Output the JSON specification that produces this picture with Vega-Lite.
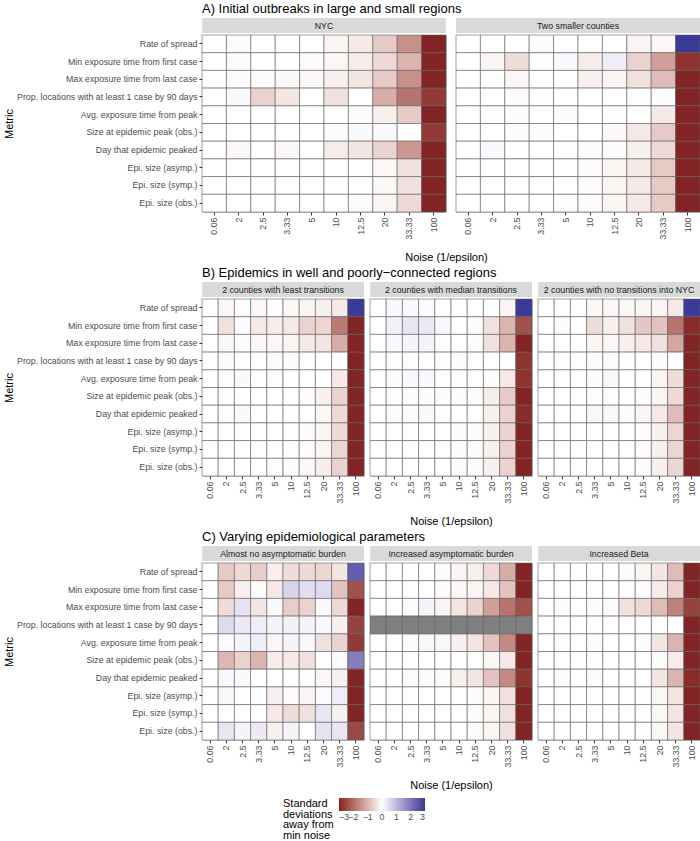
{
"$schema": "https://vega.github.io/schema/vega-lite/v6.json",
"padding": {"left": 3, "top": 3, "right": 1, "bottom": 0},
"background": "white",
"datasets": {
"A1": [
{"m":"Rate of spread","n":"0.06","v":0},{"m":"Rate of spread","n":"2","v":-0.05},{"m":"Rate of spread","n":"2.5","v":0},{"m":"Rate of spread","n":"3.33","v":0},{"m":"Rate of spread","n":"5","v":0},{"m":"Rate of spread","n":"10","v":-0.15},{"m":"Rate of spread","n":"12.5","v":-0.3},{"m":"Rate of spread","n":"20","v":-0.7},{"m":"Rate of spread","n":"33.33","v":-1.5},{"m":"Rate of spread","n":"100","v":-3},
{"m":"Min exposure time from first case","n":"0.06","v":0},{"m":"Min exposure time from first case","n":"2","v":-0.05},{"m":"Min exposure time from first case","n":"2.5","v":0},{"m":"Min exposure time from first case","n":"3.33","v":0},{"m":"Min exposure time from first case","n":"5","v":-0.05},{"m":"Min exposure time from first case","n":"10","v":-0.1},{"m":"Min exposure time from first case","n":"12.5","v":-0.25},{"m":"Min exposure time from first case","n":"20","v":-0.5},{"m":"Min exposure time from first case","n":"33.33","v":-1.0},{"m":"Min exposure time from first case","n":"100","v":-3},
{"m":"Max exposure time from last case","n":"0.06","v":0},{"m":"Max exposure time from last case","n":"2","v":-0.05},{"m":"Max exposure time from last case","n":"2.5","v":-0.05},{"m":"Max exposure time from last case","n":"3.33","v":-0.1},{"m":"Max exposure time from last case","n":"5","v":-0.1},{"m":"Max exposure time from last case","n":"10","v":-0.2},{"m":"Max exposure time from last case","n":"12.5","v":-0.35},{"m":"Max exposure time from last case","n":"20","v":-0.7},{"m":"Max exposure time from last case","n":"33.33","v":-1.5},{"m":"Max exposure time from last case","n":"100","v":-3},
{"m":"Prop. locations with at least 1 case by 90 days","n":"0.06","v":0},{"m":"Prop. locations with at least 1 case by 90 days","n":"2","v":0.1},{"m":"Prop. locations with at least 1 case by 90 days","n":"2.5","v":-0.6},{"m":"Prop. locations with at least 1 case by 90 days","n":"3.33","v":-0.35},{"m":"Prop. locations with at least 1 case by 90 days","n":"5","v":0},{"m":"Prop. locations with at least 1 case by 90 days","n":"10","v":-0.4},{"m":"Prop. locations with at least 1 case by 90 days","n":"12.5","v":0},{"m":"Prop. locations with at least 1 case by 90 days","n":"20","v":-1.1},{"m":"Prop. locations with at least 1 case by 90 days","n":"33.33","v":-1.9},{"m":"Prop. locations with at least 1 case by 90 days","n":"100","v":-2.7},
{"m":"Avg. exposure time from peak","n":"0.06","v":0},{"m":"Avg. exposure time from peak","n":"2","v":0},{"m":"Avg. exposure time from peak","n":"2.5","v":0},{"m":"Avg. exposure time from peak","n":"3.33","v":0},{"m":"Avg. exposure time from peak","n":"5","v":0},{"m":"Avg. exposure time from peak","n":"10","v":0},{"m":"Avg. exposure time from peak","n":"12.5","v":-0.05},{"m":"Avg. exposure time from peak","n":"20","v":-0.2},{"m":"Avg. exposure time from peak","n":"33.33","v":-0.7},{"m":"Avg. exposure time from peak","n":"100","v":-3},
{"m":"Size at epidemic peak (obs.)","n":"0.06","v":0},{"m":"Size at epidemic peak (obs.)","n":"2","v":0},{"m":"Size at epidemic peak (obs.)","n":"2.5","v":0},{"m":"Size at epidemic peak (obs.)","n":"3.33","v":0},{"m":"Size at epidemic peak (obs.)","n":"5","v":0},{"m":"Size at epidemic peak (obs.)","n":"10","v":0.05},{"m":"Size at epidemic peak (obs.)","n":"12.5","v":0.1},{"m":"Size at epidemic peak (obs.)","n":"20","v":0.1},{"m":"Size at epidemic peak (obs.)","n":"33.33","v":0},{"m":"Size at epidemic peak (obs.)","n":"100","v":-2.7},
{"m":"Day that epidemic peaked","n":"0.06","v":0},{"m":"Day that epidemic peaked","n":"2","v":-0.1},{"m":"Day that epidemic peaked","n":"2.5","v":0},{"m":"Day that epidemic peaked","n":"3.33","v":-0.1},{"m":"Day that epidemic peaked","n":"5","v":0},{"m":"Day that epidemic peaked","n":"10","v":-0.25},{"m":"Day that epidemic peaked","n":"12.5","v":-0.35},{"m":"Day that epidemic peaked","n":"20","v":-0.6},{"m":"Day that epidemic peaked","n":"33.33","v":-1.4},{"m":"Day that epidemic peaked","n":"100","v":-3},
{"m":"Epi. size (asymp.)","n":"0.06","v":0},{"m":"Epi. size (asymp.)","n":"2","v":0},{"m":"Epi. size (asymp.)","n":"2.5","v":0},{"m":"Epi. size (asymp.)","n":"3.33","v":0},{"m":"Epi. size (asymp.)","n":"5","v":0},{"m":"Epi. size (asymp.)","n":"10","v":0},{"m":"Epi. size (asymp.)","n":"12.5","v":0},{"m":"Epi. size (asymp.)","n":"20","v":-0.1},{"m":"Epi. size (asymp.)","n":"33.33","v":-0.4},{"m":"Epi. size (asymp.)","n":"100","v":-3},
{"m":"Epi. size (symp.)","n":"0.06","v":0},{"m":"Epi. size (symp.)","n":"2","v":0},{"m":"Epi. size (symp.)","n":"2.5","v":0},{"m":"Epi. size (symp.)","n":"3.33","v":0},{"m":"Epi. size (symp.)","n":"5","v":0},{"m":"Epi. size (symp.)","n":"10","v":0},{"m":"Epi. size (symp.)","n":"12.5","v":0},{"m":"Epi. size (symp.)","n":"20","v":-0.1},{"m":"Epi. size (symp.)","n":"33.33","v":-0.4},{"m":"Epi. size (symp.)","n":"100","v":-3},
{"m":"Epi. size (obs.)","n":"0.06","v":0},{"m":"Epi. size (obs.)","n":"2","v":0},{"m":"Epi. size (obs.)","n":"2.5","v":0},{"m":"Epi. size (obs.)","n":"3.33","v":0},{"m":"Epi. size (obs.)","n":"5","v":0},{"m":"Epi. size (obs.)","n":"10","v":0},{"m":"Epi. size (obs.)","n":"12.5","v":-0.05},{"m":"Epi. size (obs.)","n":"20","v":-0.15},{"m":"Epi. size (obs.)","n":"33.33","v":-0.5},{"m":"Epi. size (obs.)","n":"100","v":-3}
],
"A2": [
{"m":"Rate of spread","n":"0.06","v":0},{"m":"Rate of spread","n":"2","v":0},{"m":"Rate of spread","n":"2.5","v":0},{"m":"Rate of spread","n":"3.33","v":0.05},{"m":"Rate of spread","n":"5","v":0},{"m":"Rate of spread","n":"10","v":0},{"m":"Rate of spread","n":"12.5","v":0},{"m":"Rate of spread","n":"20","v":-0.15},{"m":"Rate of spread","n":"33.33","v":-0.1},{"m":"Rate of spread","n":"100","v":3},
{"m":"Min exposure time from first case","n":"0.06","v":0},{"m":"Min exposure time from first case","n":"2","v":-0.15},{"m":"Min exposure time from first case","n":"2.5","v":-0.45},{"m":"Min exposure time from first case","n":"3.33","v":0.03},{"m":"Min exposure time from first case","n":"5","v":0.1},{"m":"Min exposure time from first case","n":"10","v":-0.25},{"m":"Min exposure time from first case","n":"12.5","v":0.25},{"m":"Min exposure time from first case","n":"20","v":-0.6},{"m":"Min exposure time from first case","n":"33.33","v":-1.3},{"m":"Min exposure time from first case","n":"100","v":-2.8},
{"m":"Max exposure time from last case","n":"0.06","v":0},{"m":"Max exposure time from last case","n":"2","v":0.03},{"m":"Max exposure time from last case","n":"2.5","v":-0.1},{"m":"Max exposure time from last case","n":"3.33","v":0},{"m":"Max exposure time from last case","n":"5","v":0},{"m":"Max exposure time from last case","n":"10","v":-0.2},{"m":"Max exposure time from last case","n":"12.5","v":-0.15},{"m":"Max exposure time from last case","n":"20","v":-0.4},{"m":"Max exposure time from last case","n":"33.33","v":-0.9},{"m":"Max exposure time from last case","n":"100","v":-3},
{"m":"Prop. locations with at least 1 case by 90 days","n":"0.06","v":0},{"m":"Prop. locations with at least 1 case by 90 days","n":"2","v":0},{"m":"Prop. locations with at least 1 case by 90 days","n":"2.5","v":-0.05},{"m":"Prop. locations with at least 1 case by 90 days","n":"3.33","v":-0.03},{"m":"Prop. locations with at least 1 case by 90 days","n":"5","v":0},{"m":"Prop. locations with at least 1 case by 90 days","n":"10","v":0},{"m":"Prop. locations with at least 1 case by 90 days","n":"12.5","v":0},{"m":"Prop. locations with at least 1 case by 90 days","n":"20","v":0.03},{"m":"Prop. locations with at least 1 case by 90 days","n":"33.33","v":-0.05},{"m":"Prop. locations with at least 1 case by 90 days","n":"100","v":-3},
{"m":"Avg. exposure time from peak","n":"0.06","v":0},{"m":"Avg. exposure time from peak","n":"2","v":0.03},{"m":"Avg. exposure time from peak","n":"2.5","v":-0.05},{"m":"Avg. exposure time from peak","n":"3.33","v":0},{"m":"Avg. exposure time from peak","n":"5","v":0.05},{"m":"Avg. exposure time from peak","n":"10","v":0},{"m":"Avg. exposure time from peak","n":"12.5","v":0.03},{"m":"Avg. exposure time from peak","n":"20","v":0},{"m":"Avg. exposure time from peak","n":"33.33","v":-0.3},{"m":"Avg. exposure time from peak","n":"100","v":-3},
{"m":"Size at epidemic peak (obs.)","n":"0.06","v":0},{"m":"Size at epidemic peak (obs.)","n":"2","v":0},{"m":"Size at epidemic peak (obs.)","n":"2.5","v":-0.05},{"m":"Size at epidemic peak (obs.)","n":"3.33","v":-0.05},{"m":"Size at epidemic peak (obs.)","n":"5","v":0},{"m":"Size at epidemic peak (obs.)","n":"10","v":0},{"m":"Size at epidemic peak (obs.)","n":"12.5","v":-0.1},{"m":"Size at epidemic peak (obs.)","n":"20","v":-0.3},{"m":"Size at epidemic peak (obs.)","n":"33.33","v":-0.7},{"m":"Size at epidemic peak (obs.)","n":"100","v":-3},
{"m":"Day that epidemic peaked","n":"0.06","v":0},{"m":"Day that epidemic peaked","n":"2","v":0.1},{"m":"Day that epidemic peaked","n":"2.5","v":0},{"m":"Day that epidemic peaked","n":"3.33","v":0},{"m":"Day that epidemic peaked","n":"5","v":0.03},{"m":"Day that epidemic peaked","n":"10","v":-0.05},{"m":"Day that epidemic peaked","n":"12.5","v":-0.05},{"m":"Day that epidemic peaked","n":"20","v":-0.2},{"m":"Day that epidemic peaked","n":"33.33","v":-0.5},{"m":"Day that epidemic peaked","n":"100","v":-3},
{"m":"Epi. size (asymp.)","n":"0.06","v":0},{"m":"Epi. size (asymp.)","n":"2","v":0},{"m":"Epi. size (asymp.)","n":"2.5","v":0},{"m":"Epi. size (asymp.)","n":"3.33","v":0},{"m":"Epi. size (asymp.)","n":"5","v":0},{"m":"Epi. size (asymp.)","n":"10","v":-0.05},{"m":"Epi. size (asymp.)","n":"12.5","v":-0.15},{"m":"Epi. size (asymp.)","n":"20","v":-0.3},{"m":"Epi. size (asymp.)","n":"33.33","v":-0.7},{"m":"Epi. size (asymp.)","n":"100","v":-3},
{"m":"Epi. size (symp.)","n":"0.06","v":0},{"m":"Epi. size (symp.)","n":"2","v":0},{"m":"Epi. size (symp.)","n":"2.5","v":0},{"m":"Epi. size (symp.)","n":"3.33","v":0},{"m":"Epi. size (symp.)","n":"5","v":0},{"m":"Epi. size (symp.)","n":"10","v":-0.05},{"m":"Epi. size (symp.)","n":"12.5","v":-0.15},{"m":"Epi. size (symp.)","n":"20","v":-0.3},{"m":"Epi. size (symp.)","n":"33.33","v":-0.7},{"m":"Epi. size (symp.)","n":"100","v":-3},
{"m":"Epi. size (obs.)","n":"0.06","v":0},{"m":"Epi. size (obs.)","n":"2","v":0},{"m":"Epi. size (obs.)","n":"2.5","v":0},{"m":"Epi. size (obs.)","n":"3.33","v":0},{"m":"Epi. size (obs.)","n":"5","v":-0.03},{"m":"Epi. size (obs.)","n":"10","v":-0.05},{"m":"Epi. size (obs.)","n":"12.5","v":-0.15},{"m":"Epi. size (obs.)","n":"20","v":-0.3},{"m":"Epi. size (obs.)","n":"33.33","v":-0.7},{"m":"Epi. size (obs.)","n":"100","v":-3}
],
"B1": [
{"m":"Rate of spread","n":"0.06","v":0},{"m":"Rate of spread","n":"2","v":-0.1},{"m":"Rate of spread","n":"2.5","v":0.03},{"m":"Rate of spread","n":"3.33","v":-0.1},{"m":"Rate of spread","n":"5","v":0},{"m":"Rate of spread","n":"10","v":-0.1},{"m":"Rate of spread","n":"12.5","v":-0.15},{"m":"Rate of spread","n":"20","v":-0.2},{"m":"Rate of spread","n":"33.33","v":-0.3},{"m":"Rate of spread","n":"100","v":3},
{"m":"Min exposure time from first case","n":"0.06","v":0},{"m":"Min exposure time from first case","n":"2","v":-0.4},{"m":"Min exposure time from first case","n":"2.5","v":0.05},{"m":"Min exposure time from first case","n":"3.33","v":-0.3},{"m":"Min exposure time from first case","n":"5","v":-0.25},{"m":"Min exposure time from first case","n":"10","v":-0.3},{"m":"Min exposure time from first case","n":"12.5","v":-0.6},{"m":"Min exposure time from first case","n":"20","v":-0.55},{"m":"Min exposure time from first case","n":"33.33","v":-1.8},{"m":"Min exposure time from first case","n":"100","v":-3},
{"m":"Max exposure time from last case","n":"0.06","v":0},{"m":"Max exposure time from last case","n":"2","v":-0.1},{"m":"Max exposure time from last case","n":"2.5","v":0.05},{"m":"Max exposure time from last case","n":"3.33","v":-0.1},{"m":"Max exposure time from last case","n":"5","v":-0.1},{"m":"Max exposure time from last case","n":"10","v":-0.15},{"m":"Max exposure time from last case","n":"12.5","v":-0.3},{"m":"Max exposure time from last case","n":"20","v":-0.35},{"m":"Max exposure time from last case","n":"33.33","v":-1.1},{"m":"Max exposure time from last case","n":"100","v":-3},
{"m":"Prop. locations with at least 1 case by 90 days","n":"0.06","v":0},{"m":"Prop. locations with at least 1 case by 90 days","n":"2","v":0.05},{"m":"Prop. locations with at least 1 case by 90 days","n":"2.5","v":0},{"m":"Prop. locations with at least 1 case by 90 days","n":"3.33","v":0},{"m":"Prop. locations with at least 1 case by 90 days","n":"5","v":0.05},{"m":"Prop. locations with at least 1 case by 90 days","n":"10","v":0.05},{"m":"Prop. locations with at least 1 case by 90 days","n":"12.5","v":0},{"m":"Prop. locations with at least 1 case by 90 days","n":"20","v":0},{"m":"Prop. locations with at least 1 case by 90 days","n":"33.33","v":0},{"m":"Prop. locations with at least 1 case by 90 days","n":"100","v":-3},
{"m":"Avg. exposure time from peak","n":"0.06","v":0},{"m":"Avg. exposure time from peak","n":"2","v":0.03},{"m":"Avg. exposure time from peak","n":"2.5","v":0.08},{"m":"Avg. exposure time from peak","n":"3.33","v":0},{"m":"Avg. exposure time from peak","n":"5","v":0.03},{"m":"Avg. exposure time from peak","n":"10","v":0},{"m":"Avg. exposure time from peak","n":"12.5","v":0},{"m":"Avg. exposure time from peak","n":"20","v":0},{"m":"Avg. exposure time from peak","n":"33.33","v":-0.3},{"m":"Avg. exposure time from peak","n":"100","v":-3},
{"m":"Size at epidemic peak (obs.)","n":"0.06","v":0},{"m":"Size at epidemic peak (obs.)","n":"2","v":0.03},{"m":"Size at epidemic peak (obs.)","n":"2.5","v":0},{"m":"Size at epidemic peak (obs.)","n":"3.33","v":0},{"m":"Size at epidemic peak (obs.)","n":"5","v":0},{"m":"Size at epidemic peak (obs.)","n":"10","v":0},{"m":"Size at epidemic peak (obs.)","n":"12.5","v":-0.05},{"m":"Size at epidemic peak (obs.)","n":"20","v":-0.2},{"m":"Size at epidemic peak (obs.)","n":"33.33","v":-0.6},{"m":"Size at epidemic peak (obs.)","n":"100","v":-3},
{"m":"Day that epidemic peaked","n":"0.06","v":0},{"m":"Day that epidemic peaked","n":"2","v":0.03},{"m":"Day that epidemic peaked","n":"2.5","v":0.1},{"m":"Day that epidemic peaked","n":"3.33","v":0},{"m":"Day that epidemic peaked","n":"5","v":0},{"m":"Day that epidemic peaked","n":"10","v":0},{"m":"Day that epidemic peaked","n":"12.5","v":0},{"m":"Day that epidemic peaked","n":"20","v":-0.1},{"m":"Day that epidemic peaked","n":"33.33","v":-0.5},{"m":"Day that epidemic peaked","n":"100","v":-3},
{"m":"Epi. size (asymp.)","n":"0.06","v":0},{"m":"Epi. size (asymp.)","n":"2","v":0},{"m":"Epi. size (asymp.)","n":"2.5","v":0},{"m":"Epi. size (asymp.)","n":"3.33","v":0},{"m":"Epi. size (asymp.)","n":"5","v":0},{"m":"Epi. size (asymp.)","n":"10","v":0},{"m":"Epi. size (asymp.)","n":"12.5","v":-0.05},{"m":"Epi. size (asymp.)","n":"20","v":-0.15},{"m":"Epi. size (asymp.)","n":"33.33","v":-0.5},{"m":"Epi. size (asymp.)","n":"100","v":-3},
{"m":"Epi. size (symp.)","n":"0.06","v":0},{"m":"Epi. size (symp.)","n":"2","v":0},{"m":"Epi. size (symp.)","n":"2.5","v":0},{"m":"Epi. size (symp.)","n":"3.33","v":0},{"m":"Epi. size (symp.)","n":"5","v":0},{"m":"Epi. size (symp.)","n":"10","v":-0.03},{"m":"Epi. size (symp.)","n":"12.5","v":-0.05},{"m":"Epi. size (symp.)","n":"20","v":-0.15},{"m":"Epi. size (symp.)","n":"33.33","v":-0.55},{"m":"Epi. size (symp.)","n":"100","v":-3},
{"m":"Epi. size (obs.)","n":"0.06","v":0},{"m":"Epi. size (obs.)","n":"2","v":0},{"m":"Epi. size (obs.)","n":"2.5","v":0},{"m":"Epi. size (obs.)","n":"3.33","v":0},{"m":"Epi. size (obs.)","n":"5","v":-0.03},{"m":"Epi. size (obs.)","n":"10","v":-0.05},{"m":"Epi. size (obs.)","n":"12.5","v":-0.1},{"m":"Epi. size (obs.)","n":"20","v":-0.25},{"m":"Epi. size (obs.)","n":"33.33","v":-0.6},{"m":"Epi. size (obs.)","n":"100","v":-3}
],
"B2": [
{"m":"Rate of spread","n":"0.06","v":0},{"m":"Rate of spread","n":"2","v":0.1},{"m":"Rate of spread","n":"2.5","v":0.1},{"m":"Rate of spread","n":"3.33","v":0.05},{"m":"Rate of spread","n":"5","v":0},{"m":"Rate of spread","n":"10","v":0},{"m":"Rate of spread","n":"12.5","v":0},{"m":"Rate of spread","n":"20","v":0},{"m":"Rate of spread","n":"33.33","v":-0.15},{"m":"Rate of spread","n":"100","v":3},
{"m":"Min exposure time from first case","n":"0.06","v":0},{"m":"Min exposure time from first case","n":"2","v":0.2},{"m":"Min exposure time from first case","n":"2.5","v":0.35},{"m":"Min exposure time from first case","n":"3.33","v":0.3},{"m":"Min exposure time from first case","n":"5","v":0.1},{"m":"Min exposure time from first case","n":"10","v":0},{"m":"Min exposure time from first case","n":"12.5","v":0.05},{"m":"Min exposure time from first case","n":"20","v":-0.4},{"m":"Min exposure time from first case","n":"33.33","v":-1.0},{"m":"Min exposure time from first case","n":"100","v":-2.4},
{"m":"Max exposure time from last case","n":"0.06","v":0},{"m":"Max exposure time from last case","n":"2","v":0.1},{"m":"Max exposure time from last case","n":"2.5","v":0.15},{"m":"Max exposure time from last case","n":"3.33","v":0.15},{"m":"Max exposure time from last case","n":"5","v":0.03},{"m":"Max exposure time from last case","n":"10","v":0},{"m":"Max exposure time from last case","n":"12.5","v":-0.05},{"m":"Max exposure time from last case","n":"20","v":-0.4},{"m":"Max exposure time from last case","n":"33.33","v":-1.0},{"m":"Max exposure time from last case","n":"100","v":-3},
{"m":"Prop. locations with at least 1 case by 90 days","n":"0.06","v":0},{"m":"Prop. locations with at least 1 case by 90 days","n":"2","v":0.03},{"m":"Prop. locations with at least 1 case by 90 days","n":"2.5","v":0.03},{"m":"Prop. locations with at least 1 case by 90 days","n":"3.33","v":0},{"m":"Prop. locations with at least 1 case by 90 days","n":"5","v":-0.03},{"m":"Prop. locations with at least 1 case by 90 days","n":"10","v":0.05},{"m":"Prop. locations with at least 1 case by 90 days","n":"12.5","v":0},{"m":"Prop. locations with at least 1 case by 90 days","n":"20","v":0},{"m":"Prop. locations with at least 1 case by 90 days","n":"33.33","v":0},{"m":"Prop. locations with at least 1 case by 90 days","n":"100","v":-2.8},
{"m":"Avg. exposure time from peak","n":"0.06","v":0},{"m":"Avg. exposure time from peak","n":"2","v":0.05},{"m":"Avg. exposure time from peak","n":"2.5","v":0.1},{"m":"Avg. exposure time from peak","n":"3.33","v":0.1},{"m":"Avg. exposure time from peak","n":"5","v":0},{"m":"Avg. exposure time from peak","n":"10","v":-0.03},{"m":"Avg. exposure time from peak","n":"12.5","v":0},{"m":"Avg. exposure time from peak","n":"20","v":-0.05},{"m":"Avg. exposure time from peak","n":"33.33","v":-0.3},{"m":"Avg. exposure time from peak","n":"100","v":-2.8},
{"m":"Size at epidemic peak (obs.)","n":"0.06","v":0},{"m":"Size at epidemic peak (obs.)","n":"2","v":-0.03},{"m":"Size at epidemic peak (obs.)","n":"2.5","v":-0.05},{"m":"Size at epidemic peak (obs.)","n":"3.33","v":-0.05},{"m":"Size at epidemic peak (obs.)","n":"5","v":-0.05},{"m":"Size at epidemic peak (obs.)","n":"10","v":-0.05},{"m":"Size at epidemic peak (obs.)","n":"12.5","v":-0.05},{"m":"Size at epidemic peak (obs.)","n":"20","v":-0.25},{"m":"Size at epidemic peak (obs.)","n":"33.33","v":-0.7},{"m":"Size at epidemic peak (obs.)","n":"100","v":-3},
{"m":"Day that epidemic peaked","n":"0.06","v":0},{"m":"Day that epidemic peaked","n":"2","v":0.05},{"m":"Day that epidemic peaked","n":"2.5","v":0.05},{"m":"Day that epidemic peaked","n":"3.33","v":0.1},{"m":"Day that epidemic peaked","n":"5","v":0.03},{"m":"Day that epidemic peaked","n":"10","v":0},{"m":"Day that epidemic peaked","n":"12.5","v":0},{"m":"Day that epidemic peaked","n":"20","v":-0.2},{"m":"Day that epidemic peaked","n":"33.33","v":-0.6},{"m":"Day that epidemic peaked","n":"100","v":-2.9},
{"m":"Epi. size (asymp.)","n":"0.06","v":0},{"m":"Epi. size (asymp.)","n":"2","v":0},{"m":"Epi. size (asymp.)","n":"2.5","v":0},{"m":"Epi. size (asymp.)","n":"3.33","v":0},{"m":"Epi. size (asymp.)","n":"5","v":0},{"m":"Epi. size (asymp.)","n":"10","v":-0.05},{"m":"Epi. size (asymp.)","n":"12.5","v":-0.05},{"m":"Epi. size (asymp.)","n":"20","v":-0.2},{"m":"Epi. size (asymp.)","n":"33.33","v":-0.6},{"m":"Epi. size (asymp.)","n":"100","v":-3},
{"m":"Epi. size (symp.)","n":"0.06","v":0},{"m":"Epi. size (symp.)","n":"2","v":0},{"m":"Epi. size (symp.)","n":"2.5","v":0},{"m":"Epi. size (symp.)","n":"3.33","v":0},{"m":"Epi. size (symp.)","n":"5","v":0},{"m":"Epi. size (symp.)","n":"10","v":-0.05},{"m":"Epi. size (symp.)","n":"12.5","v":-0.05},{"m":"Epi. size (symp.)","n":"20","v":-0.2},{"m":"Epi. size (symp.)","n":"33.33","v":-0.6},{"m":"Epi. size (symp.)","n":"100","v":-3},
{"m":"Epi. size (obs.)","n":"0.06","v":0},{"m":"Epi. size (obs.)","n":"2","v":0},{"m":"Epi. size (obs.)","n":"2.5","v":0},{"m":"Epi. size (obs.)","n":"3.33","v":0},{"m":"Epi. size (obs.)","n":"5","v":0},{"m":"Epi. size (obs.)","n":"10","v":-0.05},{"m":"Epi. size (obs.)","n":"12.5","v":-0.05},{"m":"Epi. size (obs.)","n":"20","v":-0.2},{"m":"Epi. size (obs.)","n":"33.33","v":-0.6},{"m":"Epi. size (obs.)","n":"100","v":-3}
],
"B3": [
{"m":"Rate of spread","n":"0.06","v":0},{"m":"Rate of spread","n":"2","v":0},{"m":"Rate of spread","n":"2.5","v":0},{"m":"Rate of spread","n":"3.33","v":-0.1},{"m":"Rate of spread","n":"5","v":-0.1},{"m":"Rate of spread","n":"10","v":-0.1},{"m":"Rate of spread","n":"12.5","v":-0.15},{"m":"Rate of spread","n":"20","v":-0.15},{"m":"Rate of spread","n":"33.33","v":-0.3},{"m":"Rate of spread","n":"100","v":3},
{"m":"Min exposure time from first case","n":"0.06","v":0},{"m":"Min exposure time from first case","n":"2","v":-0.05},{"m":"Min exposure time from first case","n":"2.5","v":0},{"m":"Min exposure time from first case","n":"3.33","v":-0.45},{"m":"Min exposure time from first case","n":"5","v":-0.2},{"m":"Min exposure time from first case","n":"10","v":-0.4},{"m":"Min exposure time from first case","n":"12.5","v":-0.75},{"m":"Min exposure time from first case","n":"20","v":-0.8},{"m":"Min exposure time from first case","n":"33.33","v":-1.9},{"m":"Min exposure time from first case","n":"100","v":-2.9},
{"m":"Max exposure time from last case","n":"0.06","v":0},{"m":"Max exposure time from last case","n":"2","v":0},{"m":"Max exposure time from last case","n":"2.5","v":0},{"m":"Max exposure time from last case","n":"3.33","v":-0.15},{"m":"Max exposure time from last case","n":"5","v":-0.1},{"m":"Max exposure time from last case","n":"10","v":-0.2},{"m":"Max exposure time from last case","n":"12.5","v":-0.3},{"m":"Max exposure time from last case","n":"20","v":-0.4},{"m":"Max exposure time from last case","n":"33.33","v":-1.2},{"m":"Max exposure time from last case","n":"100","v":-3},
{"m":"Prop. locations with at least 1 case by 90 days","n":"0.06","v":0},{"m":"Prop. locations with at least 1 case by 90 days","n":"2","v":0},{"m":"Prop. locations with at least 1 case by 90 days","n":"2.5","v":0},{"m":"Prop. locations with at least 1 case by 90 days","n":"3.33","v":-0.05},{"m":"Prop. locations with at least 1 case by 90 days","n":"5","v":-0.05},{"m":"Prop. locations with at least 1 case by 90 days","n":"10","v":0},{"m":"Prop. locations with at least 1 case by 90 days","n":"12.5","v":0},{"m":"Prop. locations with at least 1 case by 90 days","n":"20","v":-0.05},{"m":"Prop. locations with at least 1 case by 90 days","n":"33.33","v":0},{"m":"Prop. locations with at least 1 case by 90 days","n":"100","v":-3},
{"m":"Avg. exposure time from peak","n":"0.06","v":0},{"m":"Avg. exposure time from peak","n":"2","v":0},{"m":"Avg. exposure time from peak","n":"2.5","v":0},{"m":"Avg. exposure time from peak","n":"3.33","v":-0.05},{"m":"Avg. exposure time from peak","n":"5","v":-0.1},{"m":"Avg. exposure time from peak","n":"10","v":0},{"m":"Avg. exposure time from peak","n":"12.5","v":0},{"m":"Avg. exposure time from peak","n":"20","v":-0.15},{"m":"Avg. exposure time from peak","n":"33.33","v":-0.45},{"m":"Avg. exposure time from peak","n":"100","v":-3},
{"m":"Size at epidemic peak (obs.)","n":"0.06","v":0},{"m":"Size at epidemic peak (obs.)","n":"2","v":0},{"m":"Size at epidemic peak (obs.)","n":"2.5","v":0},{"m":"Size at epidemic peak (obs.)","n":"3.33","v":-0.03},{"m":"Size at epidemic peak (obs.)","n":"5","v":0.03},{"m":"Size at epidemic peak (obs.)","n":"10","v":0},{"m":"Size at epidemic peak (obs.)","n":"12.5","v":0.05},{"m":"Size at epidemic peak (obs.)","n":"20","v":-0.15},{"m":"Size at epidemic peak (obs.)","n":"33.33","v":-0.5},{"m":"Size at epidemic peak (obs.)","n":"100","v":-3},
{"m":"Day that epidemic peaked","n":"0.06","v":0},{"m":"Day that epidemic peaked","n":"2","v":0},{"m":"Day that epidemic peaked","n":"2.5","v":0},{"m":"Day that epidemic peaked","n":"3.33","v":-0.1},{"m":"Day that epidemic peaked","n":"5","v":-0.1},{"m":"Day that epidemic peaked","n":"10","v":-0.05},{"m":"Day that epidemic peaked","n":"12.5","v":-0.15},{"m":"Day that epidemic peaked","n":"20","v":-0.3},{"m":"Day that epidemic peaked","n":"33.33","v":-0.9},{"m":"Day that epidemic peaked","n":"100","v":-3},
{"m":"Epi. size (asymp.)","n":"0.06","v":0},{"m":"Epi. size (asymp.)","n":"2","v":0},{"m":"Epi. size (asymp.)","n":"2.5","v":0},{"m":"Epi. size (asymp.)","n":"3.33","v":0},{"m":"Epi. size (asymp.)","n":"5","v":0},{"m":"Epi. size (asymp.)","n":"10","v":0},{"m":"Epi. size (asymp.)","n":"12.5","v":-0.05},{"m":"Epi. size (asymp.)","n":"20","v":-0.2},{"m":"Epi. size (asymp.)","n":"33.33","v":-0.55},{"m":"Epi. size (asymp.)","n":"100","v":-3},
{"m":"Epi. size (symp.)","n":"0.06","v":0},{"m":"Epi. size (symp.)","n":"2","v":0},{"m":"Epi. size (symp.)","n":"2.5","v":0},{"m":"Epi. size (symp.)","n":"3.33","v":0},{"m":"Epi. size (symp.)","n":"5","v":0},{"m":"Epi. size (symp.)","n":"10","v":0},{"m":"Epi. size (symp.)","n":"12.5","v":-0.05},{"m":"Epi. size (symp.)","n":"20","v":-0.2},{"m":"Epi. size (symp.)","n":"33.33","v":-0.55},{"m":"Epi. size (symp.)","n":"100","v":-3},
{"m":"Epi. size (obs.)","n":"0.06","v":0},{"m":"Epi. size (obs.)","n":"2","v":0},{"m":"Epi. size (obs.)","n":"2.5","v":0},{"m":"Epi. size (obs.)","n":"3.33","v":0},{"m":"Epi. size (obs.)","n":"5","v":0},{"m":"Epi. size (obs.)","n":"10","v":0},{"m":"Epi. size (obs.)","n":"12.5","v":-0.05},{"m":"Epi. size (obs.)","n":"20","v":-0.2},{"m":"Epi. size (obs.)","n":"33.33","v":-0.55},{"m":"Epi. size (obs.)","n":"100","v":-3}
],
"C1": [
{"m":"Rate of spread","n":"0.06","v":0},{"m":"Rate of spread","n":"2","v":-0.7},{"m":"Rate of spread","n":"2.5","v":-0.5},{"m":"Rate of spread","n":"3.33","v":-0.65},{"m":"Rate of spread","n":"5","v":-0.2},{"m":"Rate of spread","n":"10","v":-0.45},{"m":"Rate of spread","n":"12.5","v":-0.5},{"m":"Rate of spread","n":"20","v":-0.55},{"m":"Rate of spread","n":"33.33","v":-0.35},{"m":"Rate of spread","n":"100","v":2.4},
{"m":"Min exposure time from first case","n":"0.06","v":0},{"m":"Min exposure time from first case","n":"2","v":-0.7},{"m":"Min exposure time from first case","n":"2.5","v":-0.2},{"m":"Min exposure time from first case","n":"3.33","v":0.05},{"m":"Min exposure time from first case","n":"5","v":-0.3},{"m":"Min exposure time from first case","n":"10","v":0.6},{"m":"Min exposure time from first case","n":"12.5","v":0.45},{"m":"Min exposure time from first case","n":"20","v":0.5},{"m":"Min exposure time from first case","n":"33.33","v":-0.8},{"m":"Min exposure time from first case","n":"100","v":-2.4},
{"m":"Max exposure time from last case","n":"0.06","v":0},{"m":"Max exposure time from last case","n":"2","v":-0.45},{"m":"Max exposure time from last case","n":"2.5","v":0.4},{"m":"Max exposure time from last case","n":"3.33","v":-0.35},{"m":"Max exposure time from last case","n":"5","v":0.1},{"m":"Max exposure time from last case","n":"10","v":-0.65},{"m":"Max exposure time from last case","n":"12.5","v":-0.6},{"m":"Max exposure time from last case","n":"20","v":0.1},{"m":"Max exposure time from last case","n":"33.33","v":-0.5},{"m":"Max exposure time from last case","n":"100","v":-3},
{"m":"Prop. locations with at least 1 case by 90 days","n":"0.06","v":0},{"m":"Prop. locations with at least 1 case by 90 days","n":"2","v":0.5},{"m":"Prop. locations with at least 1 case by 90 days","n":"2.5","v":0.3},{"m":"Prop. locations with at least 1 case by 90 days","n":"3.33","v":0.25},{"m":"Prop. locations with at least 1 case by 90 days","n":"5","v":0.15},{"m":"Prop. locations with at least 1 case by 90 days","n":"10","v":0.2},{"m":"Prop. locations with at least 1 case by 90 days","n":"12.5","v":0.15},{"m":"Prop. locations with at least 1 case by 90 days","n":"20","v":0.1},{"m":"Prop. locations with at least 1 case by 90 days","n":"33.33","v":-0.2},{"m":"Prop. locations with at least 1 case by 90 days","n":"100","v":-2.6},
{"m":"Avg. exposure time from peak","n":"0.06","v":0},{"m":"Avg. exposure time from peak","n":"2","v":0.05},{"m":"Avg. exposure time from peak","n":"2.5","v":0.15},{"m":"Avg. exposure time from peak","n":"3.33","v":0.25},{"m":"Avg. exposure time from peak","n":"5","v":-0.1},{"m":"Avg. exposure time from peak","n":"10","v":0.15},{"m":"Avg. exposure time from peak","n":"12.5","v":0.1},{"m":"Avg. exposure time from peak","n":"20","v":-0.4},{"m":"Avg. exposure time from peak","n":"33.33","v":-0.6},{"m":"Avg. exposure time from peak","n":"100","v":-2.7},
{"m":"Size at epidemic peak (obs.)","n":"0.06","v":0},{"m":"Size at epidemic peak (obs.)","n":"2","v":-0.95},{"m":"Size at epidemic peak (obs.)","n":"2.5","v":-0.6},{"m":"Size at epidemic peak (obs.)","n":"3.33","v":-1.0},{"m":"Size at epidemic peak (obs.)","n":"5","v":-0.25},{"m":"Size at epidemic peak (obs.)","n":"10","v":-0.3},{"m":"Size at epidemic peak (obs.)","n":"12.5","v":-0.4},{"m":"Size at epidemic peak (obs.)","n":"20","v":0},{"m":"Size at epidemic peak (obs.)","n":"33.33","v":0.05},{"m":"Size at epidemic peak (obs.)","n":"100","v":1.9},
{"m":"Day that epidemic peaked","n":"0.06","v":0},{"m":"Day that epidemic peaked","n":"2","v":0.1},{"m":"Day that epidemic peaked","n":"2.5","v":0.1},{"m":"Day that epidemic peaked","n":"3.33","v":0},{"m":"Day that epidemic peaked","n":"5","v":0},{"m":"Day that epidemic peaked","n":"10","v":0},{"m":"Day that epidemic peaked","n":"12.5","v":0.03},{"m":"Day that epidemic peaked","n":"20","v":-0.1},{"m":"Day that epidemic peaked","n":"33.33","v":-0.2},{"m":"Day that epidemic peaked","n":"100","v":-3},
{"m":"Epi. size (asymp.)","n":"0.06","v":0},{"m":"Epi. size (asymp.)","n":"2","v":0.1},{"m":"Epi. size (asymp.)","n":"2.5","v":0},{"m":"Epi. size (asymp.)","n":"3.33","v":0},{"m":"Epi. size (asymp.)","n":"5","v":-0.2},{"m":"Epi. size (asymp.)","n":"10","v":-0.05},{"m":"Epi. size (asymp.)","n":"12.5","v":-0.15},{"m":"Epi. size (asymp.)","n":"20","v":0.05},{"m":"Epi. size (asymp.)","n":"33.33","v":0.25},{"m":"Epi. size (asymp.)","n":"100","v":-3},
{"m":"Epi. size (symp.)","n":"0.06","v":0},{"m":"Epi. size (symp.)","n":"2","v":0},{"m":"Epi. size (symp.)","n":"2.5","v":0},{"m":"Epi. size (symp.)","n":"3.33","v":0},{"m":"Epi. size (symp.)","n":"5","v":-0.3},{"m":"Epi. size (symp.)","n":"10","v":-0.45},{"m":"Epi. size (symp.)","n":"12.5","v":-0.4},{"m":"Epi. size (symp.)","n":"20","v":0.35},{"m":"Epi. size (symp.)","n":"33.33","v":-0.2},{"m":"Epi. size (symp.)","n":"100","v":-3},
{"m":"Epi. size (obs.)","n":"0.06","v":0},{"m":"Epi. size (obs.)","n":"2","v":0.35},{"m":"Epi. size (obs.)","n":"2.5","v":0.15},{"m":"Epi. size (obs.)","n":"3.33","v":0.3},{"m":"Epi. size (obs.)","n":"5","v":-0.2},{"m":"Epi. size (obs.)","n":"10","v":0.15},{"m":"Epi. size (obs.)","n":"12.5","v":0},{"m":"Epi. size (obs.)","n":"20","v":0.4},{"m":"Epi. size (obs.)","n":"33.33","v":0.35},{"m":"Epi. size (obs.)","n":"100","v":-2.5}
],
"C2": [
{"m":"Rate of spread","n":"0.06","v":0},{"m":"Rate of spread","n":"2","v":0},{"m":"Rate of spread","n":"2.5","v":0},{"m":"Rate of spread","n":"3.33","v":0},{"m":"Rate of spread","n":"5","v":-0.05},{"m":"Rate of spread","n":"10","v":-0.15},{"m":"Rate of spread","n":"12.5","v":-0.2},{"m":"Rate of spread","n":"20","v":-0.5},{"m":"Rate of spread","n":"33.33","v":-1.1},{"m":"Rate of spread","n":"100","v":-3},
{"m":"Min exposure time from first case","n":"0.06","v":0},{"m":"Min exposure time from first case","n":"2","v":0},{"m":"Min exposure time from first case","n":"2.5","v":0},{"m":"Min exposure time from first case","n":"3.33","v":0},{"m":"Min exposure time from first case","n":"5","v":-0.05},{"m":"Min exposure time from first case","n":"10","v":-0.1},{"m":"Min exposure time from first case","n":"12.5","v":-0.15},{"m":"Min exposure time from first case","n":"20","v":-0.3},{"m":"Min exposure time from first case","n":"33.33","v":-0.8},{"m":"Min exposure time from first case","n":"100","v":-3},
{"m":"Max exposure time from last case","n":"0.06","v":0},{"m":"Max exposure time from last case","n":"2","v":0},{"m":"Max exposure time from last case","n":"2.5","v":0.05},{"m":"Max exposure time from last case","n":"3.33","v":0.15},{"m":"Max exposure time from last case","n":"5","v":-0.15},{"m":"Max exposure time from last case","n":"10","v":-0.35},{"m":"Max exposure time from last case","n":"12.5","v":-0.6},{"m":"Max exposure time from last case","n":"20","v":-1.3},{"m":"Max exposure time from last case","n":"33.33","v":-1.9},{"m":"Max exposure time from last case","n":"100","v":-2.4},
{"m":"Prop. locations with at least 1 case by 90 days","n":"0.06","v":null},{"m":"Prop. locations with at least 1 case by 90 days","n":"2","v":null},{"m":"Prop. locations with at least 1 case by 90 days","n":"2.5","v":null},{"m":"Prop. locations with at least 1 case by 90 days","n":"3.33","v":null},{"m":"Prop. locations with at least 1 case by 90 days","n":"5","v":null},{"m":"Prop. locations with at least 1 case by 90 days","n":"10","v":null},{"m":"Prop. locations with at least 1 case by 90 days","n":"12.5","v":null},{"m":"Prop. locations with at least 1 case by 90 days","n":"20","v":null},{"m":"Prop. locations with at least 1 case by 90 days","n":"33.33","v":null},{"m":"Prop. locations with at least 1 case by 90 days","n":"100","v":null},
{"m":"Avg. exposure time from peak","n":"0.06","v":0},{"m":"Avg. exposure time from peak","n":"2","v":0},{"m":"Avg. exposure time from peak","n":"2.5","v":-0.05},{"m":"Avg. exposure time from peak","n":"3.33","v":-0.1},{"m":"Avg. exposure time from peak","n":"5","v":-0.1},{"m":"Avg. exposure time from peak","n":"10","v":-0.2},{"m":"Avg. exposure time from peak","n":"12.5","v":-0.35},{"m":"Avg. exposure time from peak","n":"20","v":-0.8},{"m":"Avg. exposure time from peak","n":"33.33","v":-1.6},{"m":"Avg. exposure time from peak","n":"100","v":-3},
{"m":"Size at epidemic peak (obs.)","n":"0.06","v":0},{"m":"Size at epidemic peak (obs.)","n":"2","v":0},{"m":"Size at epidemic peak (obs.)","n":"2.5","v":0},{"m":"Size at epidemic peak (obs.)","n":"3.33","v":0},{"m":"Size at epidemic peak (obs.)","n":"5","v":0},{"m":"Size at epidemic peak (obs.)","n":"10","v":0},{"m":"Size at epidemic peak (obs.)","n":"12.5","v":0},{"m":"Size at epidemic peak (obs.)","n":"20","v":-0.1},{"m":"Size at epidemic peak (obs.)","n":"33.33","v":-0.3},{"m":"Size at epidemic peak (obs.)","n":"100","v":-3},
{"m":"Day that epidemic peaked","n":"0.06","v":0},{"m":"Day that epidemic peaked","n":"2","v":0},{"m":"Day that epidemic peaked","n":"2.5","v":-0.05},{"m":"Day that epidemic peaked","n":"3.33","v":-0.05},{"m":"Day that epidemic peaked","n":"5","v":-0.05},{"m":"Day that epidemic peaked","n":"10","v":-0.2},{"m":"Day that epidemic peaked","n":"12.5","v":-0.35},{"m":"Day that epidemic peaked","n":"20","v":-0.8},{"m":"Day that epidemic peaked","n":"33.33","v":-1.6},{"m":"Day that epidemic peaked","n":"100","v":-2.8},
{"m":"Epi. size (asymp.)","n":"0.06","v":0},{"m":"Epi. size (asymp.)","n":"2","v":0},{"m":"Epi. size (asymp.)","n":"2.5","v":0},{"m":"Epi. size (asymp.)","n":"3.33","v":0},{"m":"Epi. size (asymp.)","n":"5","v":0},{"m":"Epi. size (asymp.)","n":"10","v":0},{"m":"Epi. size (asymp.)","n":"12.5","v":-0.05},{"m":"Epi. size (asymp.)","n":"20","v":-0.15},{"m":"Epi. size (asymp.)","n":"33.33","v":-0.4},{"m":"Epi. size (asymp.)","n":"100","v":-3},
{"m":"Epi. size (symp.)","n":"0.06","v":0},{"m":"Epi. size (symp.)","n":"2","v":0},{"m":"Epi. size (symp.)","n":"2.5","v":0},{"m":"Epi. size (symp.)","n":"3.33","v":0},{"m":"Epi. size (symp.)","n":"5","v":0},{"m":"Epi. size (symp.)","n":"10","v":0},{"m":"Epi. size (symp.)","n":"12.5","v":-0.05},{"m":"Epi. size (symp.)","n":"20","v":-0.15},{"m":"Epi. size (symp.)","n":"33.33","v":-0.4},{"m":"Epi. size (symp.)","n":"100","v":-3},
{"m":"Epi. size (obs.)","n":"0.06","v":0},{"m":"Epi. size (obs.)","n":"2","v":0},{"m":"Epi. size (obs.)","n":"2.5","v":0},{"m":"Epi. size (obs.)","n":"3.33","v":0},{"m":"Epi. size (obs.)","n":"5","v":0},{"m":"Epi. size (obs.)","n":"10","v":0},{"m":"Epi. size (obs.)","n":"12.5","v":-0.05},{"m":"Epi. size (obs.)","n":"20","v":-0.15},{"m":"Epi. size (obs.)","n":"33.33","v":-0.4},{"m":"Epi. size (obs.)","n":"100","v":-3}
],
"C3": [
{"m":"Rate of spread","n":"0.06","v":0},{"m":"Rate of spread","n":"2","v":0},{"m":"Rate of spread","n":"2.5","v":0},{"m":"Rate of spread","n":"3.33","v":0},{"m":"Rate of spread","n":"5","v":0},{"m":"Rate of spread","n":"10","v":-0.05},{"m":"Rate of spread","n":"12.5","v":-0.15},{"m":"Rate of spread","n":"20","v":-0.35},{"m":"Rate of spread","n":"33.33","v":-0.9},{"m":"Rate of spread","n":"100","v":-3},
{"m":"Min exposure time from first case","n":"0.06","v":0},{"m":"Min exposure time from first case","n":"2","v":0},{"m":"Min exposure time from first case","n":"2.5","v":0},{"m":"Min exposure time from first case","n":"3.33","v":0},{"m":"Min exposure time from first case","n":"5","v":0},{"m":"Min exposure time from first case","n":"10","v":-0.03},{"m":"Min exposure time from first case","n":"12.5","v":-0.05},{"m":"Min exposure time from first case","n":"20","v":-0.25},{"m":"Min exposure time from first case","n":"33.33","v":-0.6},{"m":"Min exposure time from first case","n":"100","v":-3},
{"m":"Max exposure time from last case","n":"0.06","v":0},{"m":"Max exposure time from last case","n":"2","v":0.05},{"m":"Max exposure time from last case","n":"2.5","v":0},{"m":"Max exposure time from last case","n":"3.33","v":0.05},{"m":"Max exposure time from last case","n":"5","v":-0.05},{"m":"Max exposure time from last case","n":"10","v":-0.4},{"m":"Max exposure time from last case","n":"12.5","v":-0.5},{"m":"Max exposure time from last case","n":"20","v":-0.9},{"m":"Max exposure time from last case","n":"33.33","v":-1.7},{"m":"Max exposure time from last case","n":"100","v":-2.6},
{"m":"Prop. locations with at least 1 case by 90 days","n":"0.06","v":0},{"m":"Prop. locations with at least 1 case by 90 days","n":"2","v":0},{"m":"Prop. locations with at least 1 case by 90 days","n":"2.5","v":0},{"m":"Prop. locations with at least 1 case by 90 days","n":"3.33","v":0},{"m":"Prop. locations with at least 1 case by 90 days","n":"5","v":0},{"m":"Prop. locations with at least 1 case by 90 days","n":"10","v":0},{"m":"Prop. locations with at least 1 case by 90 days","n":"12.5","v":0},{"m":"Prop. locations with at least 1 case by 90 days","n":"20","v":0},{"m":"Prop. locations with at least 1 case by 90 days","n":"33.33","v":0},{"m":"Prop. locations with at least 1 case by 90 days","n":"100","v":-3},
{"m":"Avg. exposure time from peak","n":"0.06","v":0},{"m":"Avg. exposure time from peak","n":"2","v":0.03},{"m":"Avg. exposure time from peak","n":"2.5","v":0},{"m":"Avg. exposure time from peak","n":"3.33","v":0.05},{"m":"Avg. exposure time from peak","n":"5","v":0},{"m":"Avg. exposure time from peak","n":"10","v":0},{"m":"Avg. exposure time from peak","n":"12.5","v":-0.05},{"m":"Avg. exposure time from peak","n":"20","v":-0.35},{"m":"Avg. exposure time from peak","n":"33.33","v":-1.0},{"m":"Avg. exposure time from peak","n":"100","v":-3},
{"m":"Size at epidemic peak (obs.)","n":"0.06","v":0},{"m":"Size at epidemic peak (obs.)","n":"2","v":0},{"m":"Size at epidemic peak (obs.)","n":"2.5","v":0},{"m":"Size at epidemic peak (obs.)","n":"3.33","v":0},{"m":"Size at epidemic peak (obs.)","n":"5","v":0},{"m":"Size at epidemic peak (obs.)","n":"10","v":0},{"m":"Size at epidemic peak (obs.)","n":"12.5","v":0},{"m":"Size at epidemic peak (obs.)","n":"20","v":-0.05},{"m":"Size at epidemic peak (obs.)","n":"33.33","v":-0.25},{"m":"Size at epidemic peak (obs.)","n":"100","v":-3},
{"m":"Day that epidemic peaked","n":"0.06","v":0},{"m":"Day that epidemic peaked","n":"2","v":0.05},{"m":"Day that epidemic peaked","n":"2.5","v":0},{"m":"Day that epidemic peaked","n":"3.33","v":0.05},{"m":"Day that epidemic peaked","n":"5","v":0},{"m":"Day that epidemic peaked","n":"10","v":0},{"m":"Day that epidemic peaked","n":"12.5","v":0},{"m":"Day that epidemic peaked","n":"20","v":-0.35},{"m":"Day that epidemic peaked","n":"33.33","v":-1.0},{"m":"Day that epidemic peaked","n":"100","v":-2.9},
{"m":"Epi. size (asymp.)","n":"0.06","v":0},{"m":"Epi. size (asymp.)","n":"2","v":0},{"m":"Epi. size (asymp.)","n":"2.5","v":0},{"m":"Epi. size (asymp.)","n":"3.33","v":0},{"m":"Epi. size (asymp.)","n":"5","v":0},{"m":"Epi. size (asymp.)","n":"10","v":0},{"m":"Epi. size (asymp.)","n":"12.5","v":-0.03},{"m":"Epi. size (asymp.)","n":"20","v":-0.1},{"m":"Epi. size (asymp.)","n":"33.33","v":-0.35},{"m":"Epi. size (asymp.)","n":"100","v":-3},
{"m":"Epi. size (symp.)","n":"0.06","v":0},{"m":"Epi. size (symp.)","n":"2","v":0},{"m":"Epi. size (symp.)","n":"2.5","v":0},{"m":"Epi. size (symp.)","n":"3.33","v":0},{"m":"Epi. size (symp.)","n":"5","v":0},{"m":"Epi. size (symp.)","n":"10","v":0},{"m":"Epi. size (symp.)","n":"12.5","v":-0.03},{"m":"Epi. size (symp.)","n":"20","v":-0.1},{"m":"Epi. size (symp.)","n":"33.33","v":-0.35},{"m":"Epi. size (symp.)","n":"100","v":-3},
{"m":"Epi. size (obs.)","n":"0.06","v":0},{"m":"Epi. size (obs.)","n":"2","v":0},{"m":"Epi. size (obs.)","n":"2.5","v":0},{"m":"Epi. size (obs.)","n":"3.33","v":0},{"m":"Epi. size (obs.)","n":"5","v":0},{"m":"Epi. size (obs.)","n":"10","v":0},{"m":"Epi. size (obs.)","n":"12.5","v":-0.03},{"m":"Epi. size (obs.)","n":"20","v":-0.1},{"m":"Epi. size (obs.)","n":"33.33","v":-0.35},{"m":"Epi. size (obs.)","n":"100","v":-3}
]
},
"vconcat": [
{"vconcat": [
 {"title": {"text": "A) Initial outbreaks in large and small regions", "anchor": "start", "frame": "group", "fontSize": 13, "fontWeight": "normal", "offset": 2},
  "hconcat": [
   {"width": 244, "height": 15, "view": {"fill": "#d9d9d9", "stroke": null}, "data": {"values": [{"label": "NYC"}]}, "mark": {"type": "text", "fontSize": 8.8, "color": "#1a1a1a"}, "encoding": {"text": {"field": "label"}}},
   {"width": 244, "height": 15, "view": {"fill": "#d9d9d9", "stroke": null}, "data": {"values": [{"label": "Two smaller counties"}]}, "mark": {"type": "text", "fontSize": 8.8, "color": "#1a1a1a"}, "encoding": {"text": {"field": "label"}}}
  ], "spacing": 10, "bounds": "flush"},
 {"hconcat": [
  {"width": 244, "height": 177, "data": {"name": "A1"}, "mark": {"type": "rect", "stroke": "#5e5e5e", "strokeWidth": 0.6},
   "encoding": {
    "x": {"field": "n", "type": "ordinal", "scale": {"domain": ["0.06","2","2.5","3.33","5","10","12.5","20","33.33","100"]}, "axis": {"labelAngle": -90, "title": "Noise (1/epsilon)", "titleAnchor": "end", "titleAlign": "center"}},
    "y": {"field": "m", "type": "ordinal", "scale": {"domain": ["Rate of spread","Min exposure time from first case","Max exposure time from last case","Prop. locations with at least 1 case by 90 days","Avg. exposure time from peak","Size at epidemic peak (obs.)","Day that epidemic peaked","Epi. size (asymp.)","Epi. size (symp.)","Epi. size (obs.)"]}, "axis": {"title": "Metric"}},
    "color": {"field": "v", "type": "quantitative", "scale": {"type": "linear", "domain": [-3, 0, 3], "range": ["#832424", "#ffffff", "#3a3a98"], "interpolate": "lab"},
      "legend": {"orient": "none", "legendX": 81, "legendY": 780, "direction": "horizontal", "gradientLength": 86, "gradientThickness": 13, "title": ["Standard", "deviations", "away from", "min noise"], "titleOrient": "left", "titleAnchor": "start", "titleBaseline": "top", "titleFontSize": 11, "titleFontWeight": "normal", "titleColor": "#000000", "titleLineHeight": 10.5, "titlePadding": 5, "labelFontSize": 8.8, "labelColor": "#4d4d4d", "labelOverlap": false, "labelAlign": "center", "values": [-3, -2, -1, 0, 1, 2, 3], "gradientStrokeWidth": 0}}
   }},
  {"width": 244, "height": 177, "data": {"name": "A2"}, "mark": {"type": "rect", "stroke": "#5e5e5e", "strokeWidth": 0.6},
   "encoding": {
    "x": {"field": "n", "type": "ordinal", "scale": {"domain": ["0.06","2","2.5","3.33","5","10","12.5","20","33.33","100"]}, "axis": {"labelAngle": -90, "title": null}},
    "y": {"field": "m", "type": "ordinal", "scale": {"domain": ["Rate of spread","Min exposure time from first case","Max exposure time from last case","Prop. locations with at least 1 case by 90 days","Avg. exposure time from peak","Size at epidemic peak (obs.)","Day that epidemic peaked","Epi. size (asymp.)","Epi. size (symp.)","Epi. size (obs.)"]}, "axis": null},
    "color": {"field": "v", "type": "quantitative", "scale": {"type": "linear", "domain": [-3, 0, 3], "range": ["#832424", "#ffffff", "#3a3a98"], "interpolate": "lab"}, "legend": null}
   }}
 ], "spacing": 10, "bounds": "flush"}
], "spacing": 1},
{"vconcat": [
 {"title": {"text": "B) Epidemics in well and poorly\u2212connected regions", "anchor": "start", "frame": "group", "fontSize": 13, "fontWeight": "normal", "offset": 2},
  "hconcat": [
   {"width": 162, "height": 15, "view": {"fill": "#d9d9d9", "stroke": null}, "data": {"values": [{"label": "2 counties with least transitions"}]}, "mark": {"type": "text", "fontSize": 8.8, "color": "#1a1a1a"}, "encoding": {"text": {"field": "label"}}},
   {"width": 162, "height": 15, "view": {"fill": "#d9d9d9", "stroke": null}, "data": {"values": [{"label": "2 counties with median transitions"}]}, "mark": {"type": "text", "fontSize": 8.8, "color": "#1a1a1a"}, "encoding": {"text": {"field": "label"}}},
   {"width": 162, "height": 15, "view": {"fill": "#d9d9d9", "stroke": null}, "data": {"values": [{"label": "2 counties with no transitions into NYC"}]}, "mark": {"type": "text", "fontSize": 8.8, "color": "#1a1a1a"}, "encoding": {"text": {"field": "label"}}}
  ], "spacing": 6, "bounds": "flush"},
 {"hconcat": [
  {"width": 162, "height": 177, "data": {"name": "B1"}, "mark": {"type": "rect", "stroke": "#5e5e5e", "strokeWidth": 0.6},
   "encoding": {
    "x": {"field": "n", "type": "ordinal", "scale": {"domain": ["0.06","2","2.5","3.33","5","10","12.5","20","33.33","100"]}, "axis": {"labelAngle": -90, "title": null}},
    "y": {"field": "m", "type": "ordinal", "scale": {"domain": ["Rate of spread","Min exposure time from first case","Max exposure time from last case","Prop. locations with at least 1 case by 90 days","Avg. exposure time from peak","Size at epidemic peak (obs.)","Day that epidemic peaked","Epi. size (asymp.)","Epi. size (symp.)","Epi. size (obs.)"]}, "axis": {"title": "Metric"}},
    "color": {"field": "v", "type": "quantitative", "scale": {"type": "linear", "domain": [-3, 0, 3], "range": ["#832424", "#ffffff", "#3a3a98"], "interpolate": "lab"}, "legend": null}
   }},
  {"width": 162, "height": 177, "data": {"name": "B2"}, "mark": {"type": "rect", "stroke": "#5e5e5e", "strokeWidth": 0.6},
   "encoding": {
    "x": {"field": "n", "type": "ordinal", "scale": {"domain": ["0.06","2","2.5","3.33","5","10","12.5","20","33.33","100"]}, "axis": {"labelAngle": -90, "title": "Noise (1/epsilon)"}},
    "y": {"field": "m", "type": "ordinal", "scale": {"domain": ["Rate of spread","Min exposure time from first case","Max exposure time from last case","Prop. locations with at least 1 case by 90 days","Avg. exposure time from peak","Size at epidemic peak (obs.)","Day that epidemic peaked","Epi. size (asymp.)","Epi. size (symp.)","Epi. size (obs.)"]}, "axis": null},
    "color": {"field": "v", "type": "quantitative", "scale": {"type": "linear", "domain": [-3, 0, 3], "range": ["#832424", "#ffffff", "#3a3a98"], "interpolate": "lab"}, "legend": null}
   }},
  {"width": 162, "height": 177, "data": {"name": "B3"}, "mark": {"type": "rect", "stroke": "#5e5e5e", "strokeWidth": 0.6},
   "encoding": {
    "x": {"field": "n", "type": "ordinal", "scale": {"domain": ["0.06","2","2.5","3.33","5","10","12.5","20","33.33","100"]}, "axis": {"labelAngle": -90, "title": null}},
    "y": {"field": "m", "type": "ordinal", "scale": {"domain": ["Rate of spread","Min exposure time from first case","Max exposure time from last case","Prop. locations with at least 1 case by 90 days","Avg. exposure time from peak","Size at epidemic peak (obs.)","Day that epidemic peaked","Epi. size (asymp.)","Epi. size (symp.)","Epi. size (obs.)"]}, "axis": null},
    "color": {"field": "v", "type": "quantitative", "scale": {"type": "linear", "domain": [-3, 0, 3], "range": ["#832424", "#ffffff", "#3a3a98"], "interpolate": "lab"}, "legend": null}
   }}
 ], "spacing": 6, "bounds": "flush"}
], "spacing": 1},
{"vconcat": [
 {"title": {"text": "C) Varying epidemiological parameters", "anchor": "start", "frame": "group", "fontSize": 13, "fontWeight": "normal", "offset": 2},
  "hconcat": [
   {"width": 162, "height": 15, "view": {"fill": "#d9d9d9", "stroke": null}, "data": {"values": [{"label": "Almost no asymptomatic burden"}]}, "mark": {"type": "text", "fontSize": 8.8, "color": "#1a1a1a"}, "encoding": {"text": {"field": "label"}}},
   {"width": 162, "height": 15, "view": {"fill": "#d9d9d9", "stroke": null}, "data": {"values": [{"label": "Increased asymptomatic burden"}]}, "mark": {"type": "text", "fontSize": 8.8, "color": "#1a1a1a"}, "encoding": {"text": {"field": "label"}}},
   {"width": 162, "height": 15, "view": {"fill": "#d9d9d9", "stroke": null}, "data": {"values": [{"label": "Increased Beta"}]}, "mark": {"type": "text", "fontSize": 8.8, "color": "#1a1a1a"}, "encoding": {"text": {"field": "label"}}}
  ], "spacing": 6, "bounds": "flush"},
 {"hconcat": [
  {"width": 162, "height": 177, "data": {"name": "C1"}, "mark": {"type": "rect", "stroke": "#5e5e5e", "strokeWidth": 0.6},
   "encoding": {
    "x": {"field": "n", "type": "ordinal", "scale": {"domain": ["0.06","2","2.5","3.33","5","10","12.5","20","33.33","100"]}, "axis": {"labelAngle": -90, "title": null}},
    "y": {"field": "m", "type": "ordinal", "scale": {"domain": ["Rate of spread","Min exposure time from first case","Max exposure time from last case","Prop. locations with at least 1 case by 90 days","Avg. exposure time from peak","Size at epidemic peak (obs.)","Day that epidemic peaked","Epi. size (asymp.)","Epi. size (symp.)","Epi. size (obs.)"]}, "axis": {"title": "Metric"}},
    "color": {"field": "v", "type": "quantitative", "scale": {"type": "linear", "domain": [-3, 0, 3], "range": ["#832424", "#ffffff", "#3a3a98"], "interpolate": "lab"}, "legend": null}
   }},
  {"width": 162, "height": 177, "data": {"name": "C2"},
   "encoding": {
    "x": {"field": "n", "type": "ordinal", "scale": {"domain": ["0.06","2","2.5","3.33","5","10","12.5","20","33.33","100"]}, "axis": {"labelAngle": -90, "title": "Noise (1/epsilon)"}},
    "y": {"field": "m", "type": "ordinal", "scale": {"domain": ["Rate of spread","Min exposure time from first case","Max exposure time from last case","Prop. locations with at least 1 case by 90 days","Avg. exposure time from peak","Size at epidemic peak (obs.)","Day that epidemic peaked","Epi. size (asymp.)","Epi. size (symp.)","Epi. size (obs.)"]}, "axis": null}
   },
   "layer": [
    {"transform": [{"filter": "isValid(datum.v)"}], "mark": {"type": "rect", "stroke": "#5e5e5e", "strokeWidth": 0.6},
     "encoding": {"color": {"field": "v", "type": "quantitative", "scale": {"type": "linear", "domain": [-3, 0, 3], "range": ["#832424", "#ffffff", "#3a3a98"], "interpolate": "lab"}, "legend": null}}},
    {"transform": [{"filter": "!isValid(datum.v)"}], "mark": {"type": "rect", "fill": "#7f7f7f", "stroke": "#5e5e5e", "strokeWidth": 0.6}, "encoding": {}}
   ]},
  {"width": 162, "height": 177, "data": {"name": "C3"}, "mark": {"type": "rect", "stroke": "#5e5e5e", "strokeWidth": 0.6},
   "encoding": {
    "x": {"field": "n", "type": "ordinal", "scale": {"domain": ["0.06","2","2.5","3.33","5","10","12.5","20","33.33","100"]}, "axis": {"labelAngle": -90, "title": null}},
    "y": {"field": "m", "type": "ordinal", "scale": {"domain": ["Rate of spread","Min exposure time from first case","Max exposure time from last case","Prop. locations with at least 1 case by 90 days","Avg. exposure time from peak","Size at epidemic peak (obs.)","Day that epidemic peaked","Epi. size (asymp.)","Epi. size (symp.)","Epi. size (obs.)"]}, "axis": null},
    "color": {"field": "v", "type": "quantitative", "scale": {"type": "linear", "domain": [-3, 0, 3], "range": ["#832424", "#ffffff", "#3a3a98"], "interpolate": "lab"}, "legend": null}
   }}
 ], "spacing": 6, "bounds": "flush"}
], "spacing": 1}
],
"spacing": 4,
"config": {
 "font": "Liberation Sans",
 "view": {"stroke": "#c8c8c8"},
 "title": {"fontWeight": "normal", "color": "#000000"},
 "scale": {"bandPaddingInner": 0, "bandPaddingOuter": 0},
 "axis": {"labelFontSize": 8.8, "labelColor": "#4d4d4d", "tickColor": "#333333", "tickSize": 3, "labelPadding": 2, "domain": false, "grid": false, "titleFontWeight": "normal", "titleFontSize": 11, "titleColor": "#000000", "titlePadding": 12},
 "axisY": {"titlePadding": 2, "labelLimit": 260}
}
}
